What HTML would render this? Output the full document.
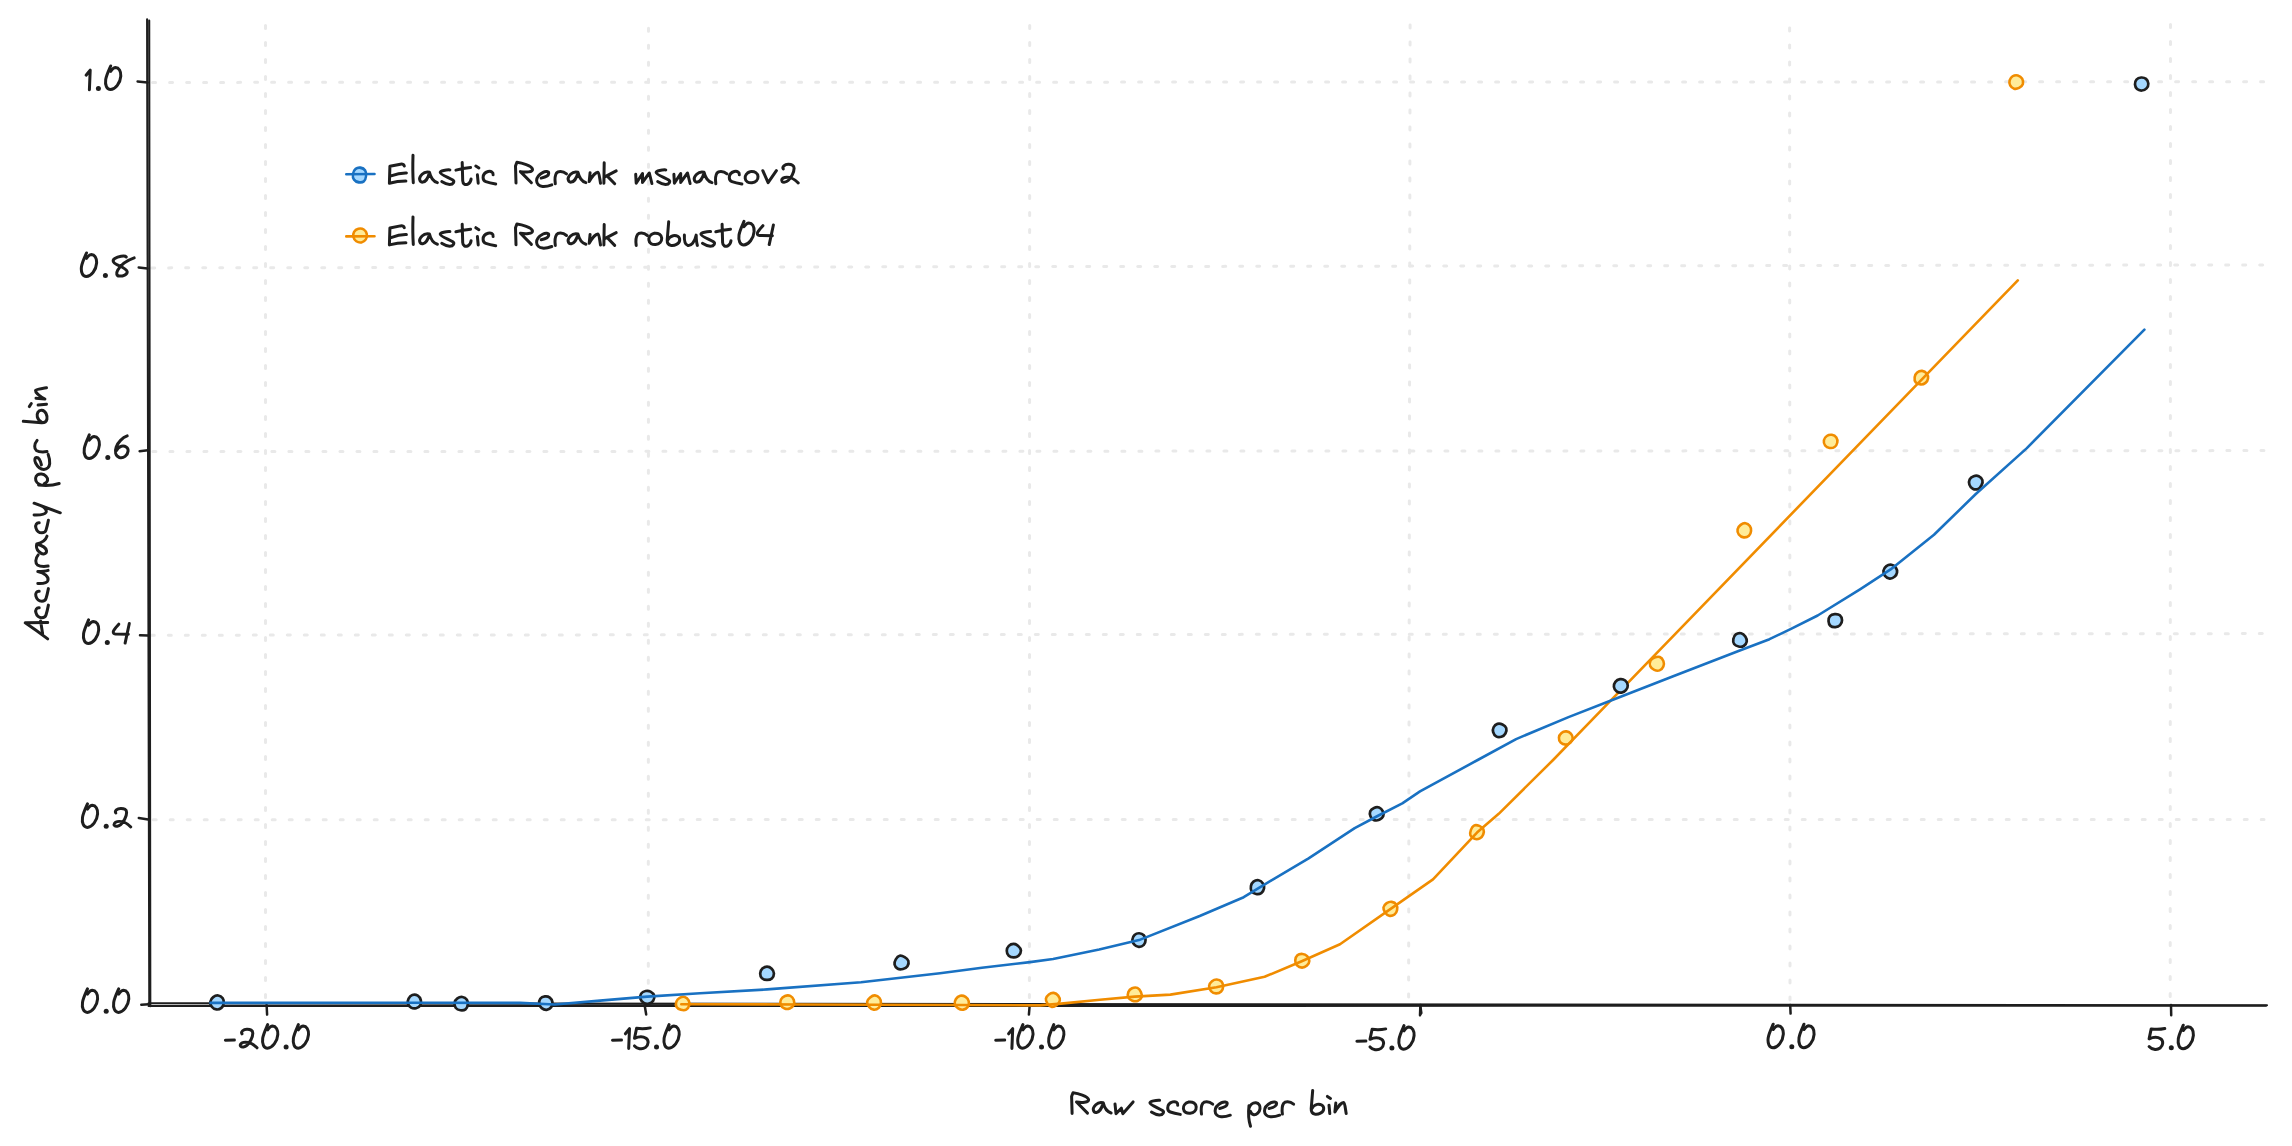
<!DOCTYPE html>
<html><head><meta charset="utf-8"><title>Accuracy per bin vs raw score</title>
<style>
html,body{margin:0;padding:0;background:#fff;font-family:"Liberation Sans",sans-serif;}
svg{display:block}
</style></head><body>
<svg width="2292" height="1146" viewBox="0 0 2292 1146">
<rect width="2292" height="1146" fill="#fff"/>

<g stroke="#e9e9e9" stroke-width="3" stroke-linecap="round" fill="none" stroke-dasharray="3 14">
<line x1="152.6" y1="82.4" x2="2264" y2="81.8"/>
<line x1="151.7" y1="267.9" x2="2264" y2="264.9"/>
<line x1="152.9" y1="451.6" x2="2264" y2="450.6"/>
<line x1="151.3" y1="635.2" x2="2264" y2="633.6"/>
<line x1="153.2" y1="819.7" x2="2264" y2="819.4"/>
<line x1="265.5" y1="25.5" x2="265.5" y2="1000"/>
<line x1="648.5" y1="28.3" x2="648.3" y2="1000"/>
<line x1="1029.7" y1="25.4" x2="1029.4" y2="1000"/>
<line x1="1410.1" y1="24.9" x2="1408.6" y2="1000"/>
<line x1="1789.6" y1="28.0" x2="1790.0" y2="1000"/>
<line x1="2170.5" y1="24.6" x2="2170.2" y2="1000"/>
</g>
<g stroke="#1e1e1e" stroke-width="2.1" stroke-linecap="round" fill="none">
<path d="M147.1,19.3 Q147.6,500 149.3,1006"/>
<path d="M149.2,20.5 Q149.6,520 150.3,1006.3"/>
<path d="M148.6,1003.3 Q900,1004.6 2267,1005.2"/>
<path d="M148.6,1006.0 Q1200,1006.0 2266,1005.7"/>
</g>
<g stroke="#1e1e1e" stroke-width="2.5" stroke-linecap="round" fill="none">
<line x1="137.6" y1="81.5" x2="147.5" y2="82.5"/>
<line x1="138.7" y1="267.5" x2="147.5" y2="268.4"/>
<line x1="139.6" y1="451.2" x2="147.8" y2="450.2"/>
<line x1="140.0" y1="635.2" x2="148.0" y2="635.5"/>
<line x1="138.8" y1="818.0" x2="148.2" y2="819.4"/>
<line x1="141.3" y1="1004.7" x2="149" y2="1004.2"/>
<line x1="266.6" y1="1005" x2="267.1" y2="1014.6"/>
<line x1="644.6" y1="1005" x2="646.2" y2="1014.5"/>
<line x1="1029.7" y1="1005" x2="1028.9" y2="1014.6"/>
<line x1="1420.4" y1="1005" x2="1420.0" y2="1015.3"/>
<line x1="1790.2" y1="1005" x2="1790.6" y2="1013.6"/>
<line x1="2171.0" y1="1005" x2="2171.2" y2="1015.3"/>
<path d="M1420.4,1005 L1421.6,1013 L1420.0,1015.3" stroke-width="2"/>
</g>
<g stroke="#f08c00" stroke-width="2.6" fill="#ffec99" stroke-linejoin="round">
<path d="M689.18,1005.38 C688.78,1006.94 687.56,1008.97 686.18,1009.71 C684.81,1010.45 682.55,1010.30 680.93,1009.83 C679.32,1009.37 677.24,1008.32 676.48,1006.94 C675.72,1005.57 675.83,1003.13 676.37,1001.60 C676.90,1000.08 678.30,998.58 679.69,997.80 C681.09,997.02 683.25,996.51 684.74,996.93 C686.22,997.35 687.88,998.92 688.62,1000.33 C689.36,1001.74 689.59,1003.82 689.18,1005.38Z"/>
<path d="M793.56,1005.16 C792.88,1006.58 791.19,1007.90 789.71,1008.46 C788.22,1009.03 786.14,1009.12 784.65,1008.53 C783.16,1007.94 781.37,1006.43 780.76,1004.93 C780.14,1003.43 780.26,1001.00 780.96,999.51 C781.66,998.02 783.40,996.57 784.95,995.97 C786.51,995.38 788.83,995.25 790.31,995.91 C791.79,996.58 793.27,998.42 793.81,999.96 C794.35,1001.50 794.25,1003.75 793.56,1005.16Z"/>
<path d="M874.91,995.41 C876.48,995.51 878.53,996.75 879.53,998.01 C880.53,999.27 881.04,1001.35 880.92,1002.98 C880.81,1004.61 880.04,1006.68 878.83,1007.80 C877.62,1008.91 875.29,1009.83 873.67,1009.66 C872.04,1009.49 870.15,1008.11 869.06,1006.80 C867.97,1005.48 866.96,1003.34 867.14,1001.77 C867.31,1000.21 868.82,998.47 870.11,997.41 C871.41,996.35 873.34,995.31 874.91,995.41Z"/>
<path d="M967.85,1006.68 C966.94,1008.07 964.90,1009.33 963.29,1009.62 C961.68,1009.91 959.61,1009.29 958.20,1008.41 C956.79,1007.52 955.21,1005.89 954.83,1004.32 C954.45,1002.76 955.02,1000.45 955.93,999.03 C956.83,997.61 958.66,996.15 960.27,995.79 C961.88,995.44 964.17,996.00 965.57,996.91 C966.98,997.83 968.34,999.66 968.72,1001.29 C969.10,1002.91 968.75,1005.29 967.85,1006.68Z"/>
<path d="M1047.57,1003.66 C1046.59,1002.29 1045.69,1000.28 1045.90,998.74 C1046.10,997.21 1047.51,995.42 1048.82,994.44 C1050.13,993.46 1052.18,992.68 1053.74,992.88 C1055.31,993.08 1057.18,994.32 1058.19,995.62 C1059.20,996.92 1060.03,999.11 1059.80,1000.67 C1059.56,1002.23 1058.13,1003.93 1056.79,1004.98 C1055.46,1006.02 1053.34,1007.14 1051.80,1006.92 C1050.26,1006.70 1048.56,1005.02 1047.57,1003.66Z"/>
<path d="M1128.31,997.44 C1127.63,996.00 1127.73,993.60 1128.35,992.07 C1128.97,990.55 1130.53,988.97 1132.04,988.28 C1133.55,987.59 1135.94,987.31 1137.42,987.92 C1138.90,988.53 1140.22,990.37 1140.91,991.93 C1141.61,993.48 1142.15,995.76 1141.59,997.26 C1141.03,998.76 1139.10,1000.36 1137.57,1000.94 C1136.04,1001.51 1133.95,1001.30 1132.40,1000.72 C1130.86,1000.13 1128.98,998.88 1128.31,997.44Z"/>
<path d="M1223.13,986.57 C1223.06,988.22 1222.32,990.35 1221.14,991.48 C1219.95,992.62 1217.70,993.45 1216.01,993.37 C1214.32,993.30 1212.17,992.29 1211.02,991.03 C1209.87,989.76 1208.96,987.43 1209.12,985.80 C1209.28,984.18 1210.69,982.31 1211.97,981.26 C1213.24,980.21 1215.17,979.46 1216.76,979.51 C1218.36,979.56 1220.49,980.40 1221.55,981.58 C1222.61,982.75 1223.20,984.92 1223.13,986.57Z"/>
<path d="M1295.26,960.34 C1295.33,958.64 1296.19,956.39 1297.41,955.33 C1298.62,954.26 1300.93,953.81 1302.55,953.94 C1304.17,954.06 1306.02,954.94 1307.15,956.10 C1308.28,957.25 1309.38,959.29 1309.34,960.86 C1309.30,962.44 1308.12,964.43 1306.91,965.57 C1305.69,966.70 1303.68,967.67 1302.03,967.66 C1300.39,967.64 1298.16,966.71 1297.03,965.49 C1295.90,964.27 1295.20,962.03 1295.26,960.34Z"/>
<path d="M1389.20,915.71 C1387.64,915.36 1386.07,913.79 1385.12,912.40 C1384.16,911.02 1383.21,908.94 1383.47,907.40 C1383.74,905.87 1385.32,904.11 1386.70,903.18 C1388.09,902.26 1390.15,901.62 1391.76,901.86 C1393.38,902.10 1395.52,903.29 1396.41,904.63 C1397.30,905.98 1397.41,908.27 1397.09,909.92 C1396.77,911.56 1395.81,913.54 1394.50,914.51 C1393.18,915.47 1390.77,916.06 1389.20,915.71Z"/>
<path d="M1470.91,829.92 C1471.51,828.31 1472.57,826.24 1473.98,825.57 C1475.39,824.90 1477.79,825.28 1479.36,825.90 C1480.93,826.53 1482.74,827.86 1483.39,829.29 C1484.03,830.73 1483.81,833.01 1483.22,834.53 C1482.62,836.04 1481.26,837.66 1479.81,838.38 C1478.36,839.10 1476.09,839.36 1474.52,838.83 C1472.95,838.30 1471.00,836.69 1470.40,835.20 C1469.79,833.72 1470.31,831.52 1470.91,829.92Z"/>
<path d="M1560.72,742.67 C1559.61,741.50 1558.80,739.20 1558.93,737.57 C1559.05,735.94 1560.23,733.92 1561.48,732.89 C1562.73,731.86 1564.84,731.25 1566.40,731.39 C1567.97,731.52 1569.82,732.52 1570.87,733.69 C1571.92,734.86 1572.81,736.88 1572.71,738.41 C1572.62,739.94 1571.51,741.85 1570.32,742.88 C1569.13,743.91 1567.20,744.62 1565.60,744.59 C1564.00,744.55 1561.83,743.84 1560.72,742.67Z"/>
<path d="M1650.38,660.88 C1651.09,659.44 1652.94,658.29 1654.50,657.65 C1656.07,657.02 1658.28,656.50 1659.76,657.07 C1661.25,657.65 1662.82,659.55 1663.42,661.12 C1664.01,662.68 1663.99,664.94 1663.35,666.49 C1662.71,668.03 1661.07,669.81 1659.55,670.38 C1658.03,670.95 1655.76,670.59 1654.22,669.91 C1652.67,669.24 1650.89,667.84 1650.26,666.34 C1649.62,664.83 1649.68,662.33 1650.38,660.88Z"/>
<path d="M1738.80,534.53 C1737.79,533.16 1737.29,530.76 1737.59,529.16 C1737.90,527.55 1739.31,525.90 1740.64,524.90 C1741.96,523.91 1743.99,523.02 1745.53,523.21 C1747.06,523.41 1748.94,524.79 1749.86,526.09 C1750.78,527.38 1751.22,529.35 1751.07,530.97 C1750.91,532.59 1750.19,534.74 1748.95,535.80 C1747.71,536.86 1745.32,537.55 1743.63,537.34 C1741.94,537.13 1739.80,535.89 1738.80,534.53Z"/>
<path d="M1834.55,446.95 C1833.27,447.83 1831.17,448.16 1829.60,447.91 C1828.03,447.66 1826.07,446.70 1825.12,445.44 C1824.17,444.18 1823.61,441.90 1823.89,440.33 C1824.17,438.75 1825.48,436.91 1826.81,435.99 C1828.14,435.08 1830.26,434.57 1831.85,434.82 C1833.44,435.08 1835.45,436.21 1836.35,437.51 C1837.25,438.81 1837.57,441.06 1837.27,442.63 C1836.97,444.20 1835.83,446.07 1834.55,446.95Z"/>
<path d="M1914.66,377.07 C1914.90,375.43 1915.93,373.58 1917.18,372.55 C1918.43,371.52 1920.56,370.75 1922.15,370.91 C1923.74,371.07 1925.76,372.24 1926.74,373.51 C1927.72,374.78 1928.24,376.96 1928.03,378.52 C1927.82,380.09 1926.71,381.90 1925.48,382.88 C1924.26,383.87 1922.30,384.51 1920.68,384.42 C1919.06,384.33 1916.76,383.56 1915.75,382.34 C1914.75,381.11 1914.42,378.70 1914.66,377.07Z"/>
<path d="M2022.87,84.18 C2022.36,85.72 2020.57,87.19 2019.10,87.94 C2017.63,88.68 2015.55,89.09 2014.06,88.67 C2012.58,88.24 2010.91,86.77 2010.17,85.39 C2009.43,84.02 2009.23,81.94 2009.63,80.42 C2010.03,78.90 2011.22,77.10 2012.59,76.26 C2013.96,75.43 2016.23,75.02 2017.82,75.42 C2019.42,75.83 2021.31,77.26 2022.15,78.71 C2022.99,80.17 2023.38,82.64 2022.87,84.18Z"/>
</g>
<path d="M681.3,1004.2 L800.0,1004.5 L960.0,1005.0 L1040.0,1005.4 L1061.0,1003.6 L1100.0,999.7 L1134.8,996.6 L1170.4,994.6 L1216.4,987.2 L1264.6,976.8 L1302.3,961.0 L1340.0,944.3 L1390.3,909.1 L1433.0,879.4 L1477.0,832.6 L1498.7,813.8 L1553.1,760.0 L1610.4,700.8 L2017.8,280.4" fill="none" stroke="#f08c00" stroke-width="2.6" stroke-linejoin="round" stroke-linecap="round"/>
<g stroke="#1e1e1e" stroke-width="2.7" fill="#a5d8ff" stroke-linejoin="round">
<path d="M221.42,1007.86 C220.20,1008.88 218.00,1009.65 216.39,1009.46 C214.78,1009.28 212.78,1008.06 211.78,1006.75 C210.77,1005.44 210.13,1003.19 210.37,1001.59 C210.60,1000.00 211.88,998.17 213.19,997.15 C214.50,996.14 216.63,995.32 218.21,995.51 C219.80,995.71 221.80,997.03 222.71,998.34 C223.63,999.64 223.92,1001.75 223.70,1003.34 C223.49,1004.92 222.64,1006.84 221.42,1007.86Z"/>
<path d="M408.58,998.70 C409.32,997.25 410.81,995.50 412.35,994.99 C413.88,994.48 416.38,994.82 417.79,995.66 C419.20,996.51 420.39,998.45 420.82,1000.06 C421.25,1001.66 421.14,1003.92 420.35,1005.28 C419.56,1006.64 417.63,1007.83 416.09,1008.22 C414.54,1008.61 412.45,1008.39 411.09,1007.64 C409.73,1006.88 408.34,1005.19 407.92,1003.70 C407.50,1002.21 407.84,1000.15 408.58,998.70Z"/>
<path d="M465.52,1009.33 C464.30,1010.25 462.07,1010.49 460.45,1010.26 C458.83,1010.03 456.78,1009.21 455.81,1007.96 C454.83,1006.72 454.32,1004.39 454.58,1002.80 C454.85,1001.21 456.09,999.39 457.40,998.42 C458.70,997.45 460.82,996.76 462.40,996.98 C463.98,997.19 466.01,998.42 466.90,999.71 C467.79,1001.00 467.99,1003.13 467.76,1004.73 C467.53,1006.34 466.73,1008.41 465.52,1009.33Z"/>
<path d="M552.41,1002.01 C552.65,1003.61 552.20,1005.84 551.24,1007.14 C550.27,1008.45 548.21,1009.67 546.62,1009.83 C545.03,1009.99 542.93,1009.13 541.71,1008.11 C540.49,1007.10 539.55,1005.31 539.30,1003.75 C539.06,1002.18 539.31,999.93 540.24,998.71 C541.16,997.50 543.26,996.65 544.85,996.46 C546.44,996.28 548.52,996.65 549.78,997.58 C551.04,998.50 552.16,1000.42 552.41,1002.01Z"/>
<path d="M654.08,995.43 C654.53,996.96 654.09,999.40 653.22,1000.76 C652.34,1002.11 650.41,1003.21 648.84,1003.57 C647.27,1003.93 645.21,1003.71 643.81,1002.93 C642.41,1002.16 640.89,1000.49 640.45,998.94 C640.00,997.38 640.27,994.94 641.13,993.61 C641.99,992.29 644.04,991.33 645.61,991.00 C647.17,990.66 649.11,990.84 650.52,991.58 C651.93,992.32 653.63,993.90 654.08,995.43Z"/>
<path d="M771.71,968.67 C772.86,969.81 773.91,971.80 773.94,973.44 C773.96,975.07 773.06,977.38 771.87,978.47 C770.68,979.55 768.44,980.00 766.77,979.95 C765.10,979.90 762.93,979.29 761.84,978.17 C760.75,977.04 760.15,974.77 760.24,973.17 C760.33,971.58 761.24,969.69 762.38,968.60 C763.51,967.51 765.47,966.61 767.03,966.63 C768.59,966.64 770.56,967.54 771.71,968.67Z"/>
<path d="M899.66,955.79 C901.14,955.43 903.24,956.34 904.68,957.20 C906.13,958.06 907.88,959.43 908.34,960.95 C908.81,962.47 908.36,964.99 907.46,966.32 C906.57,967.65 904.59,968.54 902.97,968.94 C901.36,969.35 899.19,969.51 897.79,968.75 C896.38,968.00 894.90,965.99 894.57,964.42 C894.23,962.86 894.93,960.78 895.78,959.34 C896.63,957.90 898.17,956.15 899.66,955.79Z"/>
<path d="M1013.85,957.46 C1012.18,957.52 1009.91,956.91 1008.73,955.79 C1007.55,954.67 1006.76,952.40 1006.77,950.75 C1006.78,949.11 1007.67,947.04 1008.80,945.91 C1009.93,944.78 1011.99,943.96 1013.55,943.96 C1015.12,943.96 1016.97,944.82 1018.20,945.90 C1019.42,946.98 1020.81,948.85 1020.91,950.44 C1021.00,952.03 1019.94,954.27 1018.76,955.44 C1017.59,956.62 1015.52,957.41 1013.85,957.46Z"/>
<path d="M1143.81,944.86 C1142.68,946.01 1140.37,946.90 1138.75,946.81 C1137.13,946.71 1135.16,945.50 1134.10,944.27 C1133.04,943.05 1132.31,941.03 1132.39,939.47 C1132.46,937.91 1133.39,935.95 1134.53,934.91 C1135.67,933.87 1137.68,933.19 1139.22,933.25 C1140.77,933.30 1142.75,934.11 1143.80,935.22 C1144.86,936.33 1145.55,938.32 1145.55,939.93 C1145.55,941.53 1144.95,943.71 1143.81,944.86Z"/>
<path d="M1256.05,893.95 C1254.45,893.63 1252.51,892.47 1251.65,891.16 C1250.80,889.85 1250.64,887.68 1250.94,886.10 C1251.24,884.52 1252.18,882.66 1253.46,881.68 C1254.74,880.71 1257.04,879.96 1258.63,880.25 C1260.21,880.54 1262.06,882.05 1262.96,883.43 C1263.85,884.82 1264.28,886.95 1264.00,888.56 C1263.72,890.17 1262.60,892.21 1261.27,893.11 C1259.95,894.01 1257.65,894.28 1256.05,893.95Z"/>
<path d="M1382.74,811.11 C1383.43,812.58 1383.76,814.91 1383.18,816.37 C1382.60,817.82 1380.75,819.21 1379.25,819.84 C1377.74,820.46 1375.58,820.68 1374.13,820.12 C1372.68,819.56 1371.19,817.92 1370.54,816.46 C1369.89,814.99 1369.66,812.74 1370.23,811.31 C1370.81,809.89 1372.54,808.52 1374.01,807.89 C1375.48,807.26 1377.59,806.99 1379.05,807.53 C1380.50,808.07 1382.06,809.63 1382.74,811.11Z"/>
<path d="M1502.46,724.49 C1503.93,725.21 1505.75,726.68 1506.24,728.18 C1506.73,729.68 1506.22,732.04 1505.41,733.47 C1504.60,734.89 1502.93,736.23 1501.39,736.72 C1499.85,737.20 1497.56,737.15 1496.19,736.40 C1494.81,735.65 1493.59,733.76 1493.16,732.23 C1492.73,730.71 1492.90,728.64 1493.61,727.25 C1494.31,725.85 1495.93,724.33 1497.41,723.87 C1498.88,723.41 1500.99,723.77 1502.46,724.49Z"/>
<path d="M1613.91,686.92 C1613.71,685.32 1614.37,683.12 1615.38,681.83 C1616.39,680.54 1618.34,679.41 1619.98,679.19 C1621.62,678.96 1623.92,679.49 1625.21,680.50 C1626.51,681.52 1627.64,683.67 1627.76,685.28 C1627.88,686.88 1626.95,688.91 1625.92,690.14 C1624.89,691.36 1623.12,692.41 1621.57,692.63 C1620.02,692.84 1617.89,692.36 1616.61,691.41 C1615.34,690.46 1614.12,688.51 1613.91,686.92Z"/>
<path d="M1746.77,641.55 C1746.50,643.14 1745.07,645.17 1743.70,645.99 C1742.34,646.81 1740.17,646.82 1738.58,646.49 C1736.98,646.16 1735.00,645.28 1734.13,644.03 C1733.25,642.77 1733.05,640.56 1733.33,638.94 C1733.62,637.32 1734.52,635.25 1735.82,634.30 C1737.13,633.35 1739.57,632.88 1741.15,633.24 C1742.73,633.61 1744.37,635.10 1745.30,636.49 C1746.24,637.87 1747.04,639.97 1746.77,641.55Z"/>
<path d="M1835.47,627.16 C1833.87,627.29 1831.64,626.89 1830.48,625.88 C1829.32,624.86 1828.61,622.70 1828.52,621.08 C1828.43,619.45 1828.92,617.25 1829.95,616.11 C1830.98,614.96 1833.07,614.32 1834.73,614.19 C1836.39,614.06 1838.67,614.31 1839.89,615.33 C1841.11,616.35 1842.00,618.67 1842.03,620.30 C1842.06,621.94 1841.14,623.97 1840.05,625.12 C1838.96,626.26 1837.06,627.03 1835.47,627.16Z"/>
<path d="M1895.80,567.61 C1896.72,568.90 1897.24,570.93 1897.03,572.45 C1896.82,573.97 1895.77,575.73 1894.54,576.75 C1893.32,577.76 1891.28,578.69 1889.68,578.55 C1888.09,578.41 1886.01,577.23 1884.97,575.91 C1883.93,574.60 1883.23,572.29 1883.46,570.66 C1883.69,569.02 1885.03,567.07 1886.37,566.09 C1887.71,565.10 1889.93,564.49 1891.51,564.75 C1893.08,565.00 1894.88,566.33 1895.80,567.61Z"/>
<path d="M1978.78,476.20 C1980.24,476.85 1981.92,478.60 1982.39,480.09 C1982.85,481.59 1982.28,483.70 1981.57,485.17 C1980.85,486.65 1979.55,488.34 1978.09,488.93 C1976.62,489.52 1974.22,489.42 1972.77,488.70 C1971.32,487.99 1969.91,486.18 1969.40,484.64 C1968.88,483.10 1968.98,480.87 1969.68,479.46 C1970.39,478.05 1972.10,476.72 1973.62,476.18 C1975.14,475.64 1977.32,475.55 1978.78,476.20Z"/>
<path d="M2141.91,90.51 C2140.33,90.62 2138.21,90.05 2137.05,89.04 C2135.90,88.02 2135.09,85.99 2134.99,84.41 C2134.89,82.82 2135.44,80.70 2136.46,79.55 C2137.48,78.40 2139.50,77.64 2141.10,77.52 C2142.69,77.41 2144.81,77.88 2146.01,78.89 C2147.22,79.89 2148.26,81.99 2148.34,83.57 C2148.42,85.16 2147.58,87.26 2146.51,88.42 C2145.43,89.58 2143.48,90.41 2141.91,90.51Z"/>
</g>
<path d="M210.5,1002.9 L415.0,1002.8 L520.0,1002.9 L554.6,1004.5 L600.0,1000.6 L647.2,996.6 L700.0,993.3 L767.0,989.4 L861.0,982.3 L940.0,973.2 L981.9,967.7 L1030.0,962.1 L1053.1,959.0 L1099.2,949.5 L1139.0,940.1 L1199.7,916.0 L1243.7,897.2 L1257.3,888.8 L1308.6,858.4 L1354.7,828.1 L1376.6,816.5 L1402.3,803.3 L1420.0,791.4 L1477.7,760.0 L1516.1,739.1 L1568.5,717.1 L1610.4,700.7 L1673.2,676.2 L1739.8,650.5 L1769.5,639.2 L1790.5,629.1 L1817.7,615.5 L1860.0,589.3 L1890.6,569.4 L1934.0,534.8 L1975.8,494.0 L2026.6,448.4 L2144.4,329.7" fill="none" stroke="#1971c2" stroke-width="2.6" stroke-linejoin="round" stroke-linecap="round"/>
<path transform="translate(359.6,175.0) scale(0.96,1.08) translate(-359.6,-175.0)" d="M353.77,179.31 C352.78,178.02 352.40,175.61 352.68,173.96 C352.97,172.31 354.14,170.34 355.46,169.40 C356.78,168.45 358.96,168.07 360.61,168.30 C362.25,168.52 364.39,169.47 365.34,170.76 C366.30,172.04 366.54,174.31 366.32,176.01 C366.09,177.71 365.28,180.00 363.99,180.95 C362.71,181.90 360.30,181.98 358.59,181.71 C356.89,181.44 354.75,180.60 353.77,179.31Z" fill="#a5d8ff" stroke="#1971c2" stroke-width="2.6"/>
<line x1="346.3" y1="174.2" x2="374.5" y2="174.0" stroke="#1971c2" stroke-width="2.6" stroke-linecap="round"/>
<path d="M366.77,234.07 C367.11,235.72 366.74,237.99 365.84,239.38 C364.95,240.77 363.01,242.10 361.41,242.41 C359.82,242.73 357.61,242.18 356.28,241.29 C354.95,240.39 353.81,238.60 353.45,237.03 C353.08,235.47 353.24,233.27 354.07,231.89 C354.89,230.51 356.76,229.16 358.38,228.76 C360.00,228.37 362.39,228.61 363.78,229.50 C365.18,230.38 366.42,232.43 366.77,234.07Z" fill="#ffec99" stroke="#f08c00" stroke-width="2.6"/>
<line x1="346.3" y1="236.4" x2="374.5" y2="236.3" stroke="#f08c00" stroke-width="2.6" stroke-linecap="round"/>
<g fill="none" stroke="#1e1e1e" stroke-width="3.0" stroke-linecap="round" stroke-linejoin="round">
<path transform="translate(389.4,183.3)" d="M14.9,-17.3 Q14,-19.6 11,-19.1 L0.5,-17 L0,-0.1 Q8,-2.3 16.5,-2.3 M1.6,-7.4 Q10,-10.6 17,-10.4"/><path transform="translate(412.7,183.3)" d="M0.3,-28.1 Q-0.2,-12 0.6,-0.6"/><path transform="translate(419.6,183.3)" d="M9.8,-11 C7.5,-11.6 4.5,-11 2.5,-9 C0.8,-7.3 -0.3,-5.3 0,-4 C0.4,-1.8 1.8,-1 3.2,-1.2 C5.5,-1.5 8.5,-5 9.9,-11 C10.8,-7 13.5,-2 17.8,-0.7"/><path transform="translate(440.2,183.3)" d="M9.7,-13.4 C6,-13.6 0.2,-12.5 0,-10.8 C-0.2,-9 9,-5.5 12.6,-3.2 C14.5,-2 13.5,1.2 9.4,1.2 C6,1.2 3.5,-0.5 1.6,-1.7"/><path transform="translate(455.9,183.3)" d="M6.3,-20.8 L6.8,-2.5 C6.9,1 9.5,2 12,0.8 C14,-0.2 15,-2.5 15.2,-4.3 M0,-13.2 Q7,-15 14.7,-15.8"/><path transform="translate(475.8,183.3)" d="M0,-17.3 L3.1,-15.3 M1.6,-8.5 L2.4,-0.1"/><path transform="translate(483.1,183.3)" d="M10,-8.5 C10.3,-11 8,-12.6 5,-11.8 C2,-11 0,-8.5 0,-5.8 C0,-3.5 1.2,-2.2 2.7,-1.7 C5.5,-0.8 9,0 12.6,0.7"/><path transform="translate(515.5,183.3)" d="M0.5,-0.3 L0,-17.2 L1.4,-21 C6,-20.4 16.5,-17.6 17,-14 C17.3,-11.2 10,-10.7 4.9,-11.7 L15.9,-0.6"/><path transform="translate(536.6,183.3)" d="M4.6,-5.2 C8,-5.9 12,-7.8 12.1,-9.9 C12.2,-12 9,-12.3 6.5,-11 C3,-9.2 0,-5.8 0,-2.7 C0,0.5 2.5,2.8 6,3.1 C9.5,3.4 12.5,2.5 15.2,1.5"/><path transform="translate(555.0,183.3)" d="M0.3,0.4 C-0.3,-4 0,-8 1.5,-10.3 C3,-12.3 7.5,-12.8 11.5,-9.5"/><path transform="translate(568.1,183.3)" d="M9.8,-11 C7.5,-11.6 4.5,-11 2.5,-9 C0.8,-7.3 -0.3,-5.3 0,-4 C0.4,-1.8 1.8,-1 3.2,-1.2 C5.5,-1.5 8.5,-5 9.9,-11 C10.8,-7 13.5,-2 17.8,-0.7"/><path transform="translate(589.0,183.3)" d="M1.1,-10.6 L0.2,-1.7 C2.5,-6 6.5,-11.2 8.9,-11.1 C10.2,-11 10.5,-6 11.5,-0.1"/><path transform="translate(603.9,183.3)" d="M0.3,-20.5 L0,-0.1 M12.3,-12.4 L0.8,-6.4 M3.4,-7.2 L10.8,0.4"/><path transform="translate(635.7,183.3)" d="M0,-9 L0.5,-0.1 L6.8,-9.8 L6.8,-0.9 L13.6,-10.3 L16.2,0.2"/><path transform="translate(656.1,183.3)" d="M9.7,-13.4 C6,-13.6 0.2,-12.5 0,-10.8 C-0.2,-9 9,-5.5 12.6,-3.2 C14.5,-2 13.5,1.2 9.4,1.2 C6,1.2 3.5,-0.5 1.6,-1.7"/><path transform="translate(673.9,183.3)" d="M0,-9 L0.5,-0.1 L6.8,-9.8 L6.8,-0.9 L13.6,-10.3 L16.2,0.2"/><path transform="translate(694.2,183.3)" d="M9.8,-11 C7.5,-11.6 4.5,-11 2.5,-9 C0.8,-7.3 -0.3,-5.3 0,-4 C0.4,-1.8 1.8,-1 3.2,-1.2 C5.5,-1.5 8.5,-5 9.9,-11 C10.8,-7 13.5,-2 17.8,-0.7"/><path transform="translate(715.5,183.3)" d="M0.3,0.4 C-0.3,-4 0,-8 1.5,-10.3 C3,-12.3 7.5,-12.8 11.5,-9.5"/><path transform="translate(729.3,183.3)" d="M10,-8.5 C10.3,-11 8,-12.6 5,-11.8 C2,-11 0,-8.5 0,-5.8 C0,-3.5 1.2,-2.2 2.7,-1.7 C5.5,-0.8 9,0 12.6,0.7"/><path transform="translate(745.2,183.3)" d="M5,-11.6 C1.5,-10.5 -0.3,-7.5 0,-5 C0.3,-1.5 3.5,-0.2 6.8,-0.5 C10.5,-0.8 13,-3.5 12.8,-6.8 C12.6,-10.2 9.5,-12 6,-11.8 C4.5,-11.7 3.5,-11.2 2.5,-10.5"/><path transform="translate(762.8,183.3)" d="M0,-12.6 L5.3,-0.6 L13.6,-12.6"/><path transform="translate(781.7,183.3)" d="M1.6,-14.4 C0.2,-16.5 3,-18.9 6.5,-19 C10,-19.1 12.4,-17.8 12.4,-15 C12.4,-11 9.5,-5.5 6.5,-2.8 C4.5,-1 1.5,-0.6 0.3,-1.9 C-0.8,-3.2 0.5,-5.3 3,-5.8 C8,-6.8 13.5,-3.8 16.6,-0.4"/>
<path transform="translate(389.4,245.0)" d="M14.9,-17.3 Q14,-19.6 11,-19.1 L0.5,-17 L0,-0.1 Q8,-2.3 16.5,-2.3 M1.6,-7.4 Q10,-10.6 17,-10.4"/><path transform="translate(412.7,245.0)" d="M0.3,-28.1 Q-0.2,-12 0.6,-0.6"/><path transform="translate(419.6,245.0)" d="M9.8,-11 C7.5,-11.6 4.5,-11 2.5,-9 C0.8,-7.3 -0.3,-5.3 0,-4 C0.4,-1.8 1.8,-1 3.2,-1.2 C5.5,-1.5 8.5,-5 9.9,-11 C10.8,-7 13.5,-2 17.8,-0.7"/><path transform="translate(440.2,245.0)" d="M9.7,-13.4 C6,-13.6 0.2,-12.5 0,-10.8 C-0.2,-9 9,-5.5 12.6,-3.2 C14.5,-2 13.5,1.2 9.4,1.2 C6,1.2 3.5,-0.5 1.6,-1.7"/><path transform="translate(455.9,245.0)" d="M6.3,-20.8 L6.8,-2.5 C6.9,1 9.5,2 12,0.8 C14,-0.2 15,-2.5 15.2,-4.3 M0,-13.2 Q7,-15 14.7,-15.8"/><path transform="translate(475.8,245.0)" d="M0,-17.3 L3.1,-15.3 M1.6,-8.5 L2.4,-0.1"/><path transform="translate(483.1,245.0)" d="M10,-8.5 C10.3,-11 8,-12.6 5,-11.8 C2,-11 0,-8.5 0,-5.8 C0,-3.5 1.2,-2.2 2.7,-1.7 C5.5,-0.8 9,0 12.6,0.7"/><path transform="translate(515.5,245.0)" d="M0.5,-0.3 L0,-17.2 L1.4,-21 C6,-20.4 16.5,-17.6 17,-14 C17.3,-11.2 10,-10.7 4.9,-11.7 L15.9,-0.6"/><path transform="translate(536.6,245.0)" d="M4.6,-5.2 C8,-5.9 12,-7.8 12.1,-9.9 C12.2,-12 9,-12.3 6.5,-11 C3,-9.2 0,-5.8 0,-2.7 C0,0.5 2.5,2.8 6,3.1 C9.5,3.4 12.5,2.5 15.2,1.5"/><path transform="translate(555.0,245.0)" d="M0.3,0.4 C-0.3,-4 0,-8 1.5,-10.3 C3,-12.3 7.5,-12.8 11.5,-9.5"/><path transform="translate(568.1,245.0)" d="M9.8,-11 C7.5,-11.6 4.5,-11 2.5,-9 C0.8,-7.3 -0.3,-5.3 0,-4 C0.4,-1.8 1.8,-1 3.2,-1.2 C5.5,-1.5 8.5,-5 9.9,-11 C10.8,-7 13.5,-2 17.8,-0.7"/><path transform="translate(589.0,245.0)" d="M1.1,-10.6 L0.2,-1.7 C2.5,-6 6.5,-11.2 8.9,-11.1 C10.2,-11 10.5,-6 11.5,-0.1"/><path transform="translate(603.9,245.0)" d="M0.3,-20.5 L0,-0.1 M12.3,-12.4 L0.8,-6.4 M3.4,-7.2 L10.8,0.4"/><path transform="translate(635.9,245.0)" d="M0.3,0.4 C-0.3,-4 0,-8 1.5,-10.3 C3,-12.3 7.5,-12.8 11.5,-9.5"/><path transform="translate(648.9,245.0)" d="M5,-11.6 C1.5,-10.5 -0.3,-7.5 0,-5 C0.3,-1.5 3.5,-0.2 6.8,-0.5 C10.5,-0.8 13,-3.5 12.8,-6.8 C12.6,-10.2 9.5,-12 6,-11.8 C4.5,-11.7 3.5,-11.2 2.5,-10.5"/><path transform="translate(667.1,245.0)" d="M1.6,-23.3 L0.1,-5 C0,-2 1,-0.3 3.5,0.3 C7.3,1 12.3,-1 12.6,-4.8 C12.9,-8.5 9.1,-10 6,-9.3 C3.5,-8.7 1.5,-6.8 0.3,-4.5"/><path transform="translate(684.4,245.0)" d="M0,-9.9 C-0.2,-6 -0.3,-1 3,0.2 C6.5,1.3 10.5,-3 11.8,-9.9 C11.8,-6 12,-2.5 13,0.4"/><path transform="translate(700.9,245.0)" d="M9.7,-13.4 C6,-13.6 0.2,-12.5 0,-10.8 C-0.2,-9 9,-5.5 12.6,-3.2 C14.5,-2 13.5,1.2 9.4,1.2 C6,1.2 3.5,-0.5 1.6,-1.7"/><path transform="translate(715.8,245.0)" d="M6.3,-20.8 L6.8,-2.5 C6.9,1 9.5,2 12,0.8 C14,-0.2 15,-2.5 15.2,-4.3 M0,-13.2 Q7,-15 14.7,-15.8"/><path transform="translate(738.8,245.0)" d="M5.2,-23.6 C3.9,-20.5 0.9,-14.5 0.2,-10 C-0.6,-4.5 1.3,0 5,0 C9.8,0 14.9,-6.8 15.3,-13.5 C15.6,-18.6 13.4,-22 10,-22.1 C8.8,-22.1 7.2,-21 5.2,-18.3"/><path transform="translate(757.4,245.0)" d="M5.5,-19.3 C3,-16.5 0.5,-14 0,-12 C-0.2,-10.3 0.5,-9.6 2,-9.5 L15,-9.2 M16,-20 L11.8,-0.4"/>
<path transform="translate(1071.6,1113.7)" d="M0.5,-0.3 L0,-17.2 L1.4,-21 C6,-20.4 16.5,-17.6 17,-14 C17.3,-11.2 10,-10.7 4.9,-11.7 L15.9,-0.6"/><path transform="translate(1093.3,1113.7)" d="M9.8,-11 C7.5,-11.6 4.5,-11 2.5,-9 C0.8,-7.3 -0.3,-5.3 0,-4 C0.4,-1.8 1.8,-1 3.2,-1.2 C5.5,-1.5 8.5,-5 9.9,-11 C10.8,-7 13.5,-2 17.8,-0.7"/><path transform="translate(1115.0,1113.7)" d="M0,-9.8 L1,0 L6.3,-5.5 L7.8,0 L18.1,-11.8"/><path transform="translate(1149.9,1113.7)" d="M9.7,-13.4 C6,-13.6 0.2,-12.5 0,-10.8 C-0.2,-9 9,-5.5 12.6,-3.2 C14.5,-2 13.5,1.2 9.4,1.2 C6,1.2 3.5,-0.5 1.6,-1.7"/><path transform="translate(1167.7,1113.7)" d="M10,-8.5 C10.3,-11 8,-12.6 5,-11.8 C2,-11 0,-8.5 0,-5.8 C0,-3.5 1.2,-2.2 2.7,-1.7 C5.5,-0.8 9,0 12.6,0.7"/><path transform="translate(1183.4,1113.7)" d="M5,-11.6 C1.5,-10.5 -0.3,-7.5 0,-5 C0.3,-1.5 3.5,-0.2 6.8,-0.5 C10.5,-0.8 13,-3.5 12.8,-6.8 C12.6,-10.2 9.5,-12 6,-11.8 C4.5,-11.7 3.5,-11.2 2.5,-10.5"/><path transform="translate(1201.2,1113.7)" d="M0.3,0.4 C-0.3,-4 0,-8 1.5,-10.3 C3,-12.3 7.5,-12.8 11.5,-9.5"/><path transform="translate(1215.1,1113.7)" d="M4.6,-5.2 C8,-5.9 12,-7.8 12.1,-9.9 C12.2,-12 9,-12.3 6.5,-11 C3,-9.2 0,-5.8 0,-2.7 C0,0.5 2.5,2.8 6,3.1 C9.5,3.4 12.5,2.5 15.2,1.5"/><path transform="translate(1248.4,1113.7)" d="M0.6,-8 C0,-3 -0.3,5 2.1,12.6 M0.5,-5.2 C1.5,-9 4.5,-11.3 7.5,-11 C10.5,-10.7 12,-8 11.6,-5 C11.2,-1.5 8,1.3 5.5,1 C3.5,0.7 2.5,-1 2,-2.3"/><path transform="translate(1264.5,1113.7)" d="M4.6,-5.2 C8,-5.9 12,-7.8 12.1,-9.9 C12.2,-12 9,-12.3 6.5,-11 C3,-9.2 0,-5.8 0,-2.7 C0,0.5 2.5,2.8 6,3.1 C9.5,3.4 12.5,2.5 15.2,1.5"/><path transform="translate(1282.1,1113.7)" d="M0.3,0.4 C-0.3,-4 0,-8 1.5,-10.3 C3,-12.3 7.5,-12.8 11.5,-9.5"/><path transform="translate(1311.1,1113.7)" d="M1.6,-23.3 L0.1,-5 C0,-2 1,-0.3 3.5,0.3 C7.3,1 12.3,-1 12.6,-4.8 C12.9,-8.5 9.1,-10 6,-9.3 C3.5,-8.7 1.5,-6.8 0.3,-4.5"/><path transform="translate(1327.4,1113.7)" d="M0,-17.3 L3.1,-15.3 M1.6,-8.5 L2.4,-0.1"/><path transform="translate(1334.7,1113.7)" d="M1.1,-10.6 L0.2,-1.7 C2.5,-6 6.5,-11.2 8.9,-11.1 C10.2,-11 10.5,-6 11.5,-0.1"/>
<g transform="translate(47.7,638.9) rotate(-90)"><path transform="translate(0.0,0.0)" d="M0,0 Q9,-12 16.1,-22.5 L16.3,0 M5.1,-5.1 L18,-7.1"/><path transform="translate(21.2,0.0)" d="M10,-8.5 C10.3,-11 8,-12.6 5,-11.8 C2,-11 0,-8.5 0,-5.8 C0,-3.5 1.2,-2.2 2.7,-1.7 C5.5,-0.8 9,0 12.6,0.7"/><path transform="translate(37.7,0.0)" d="M10,-8.5 C10.3,-11 8,-12.6 5,-11.8 C2,-11 0,-8.5 0,-5.8 C0,-3.5 1.2,-2.2 2.7,-1.7 C5.5,-0.8 9,0 12.6,0.7"/><path transform="translate(55.5,0.0)" d="M0,-9.9 C-0.2,-6 -0.3,-1 3,0.2 C6.5,1.3 10.5,-3 11.8,-9.9 C11.8,-6 12,-2.5 13,0.4"/><path transform="translate(72.5,0.0)" d="M0.3,0.4 C-0.3,-4 0,-8 1.5,-10.3 C3,-12.3 7.5,-12.8 11.5,-9.5"/><path transform="translate(85.0,0.0)" d="M9.8,-11 C7.5,-11.6 4.5,-11 2.5,-9 C0.8,-7.3 -0.3,-5.3 0,-4 C0.4,-1.8 1.8,-1 3.2,-1.2 C5.5,-1.5 8.5,-5 9.9,-11 C10.8,-7 13.5,-2 17.8,-0.7"/><path transform="translate(106.1,0.0)" d="M10,-8.5 C10.3,-11 8,-12.6 5,-11.8 C2,-11 0,-8.5 0,-5.8 C0,-3.5 1.2,-2.2 2.7,-1.7 C5.5,-0.8 9,0 12.6,0.7"/><path transform="translate(124.0,0.0)" d="M0,-13.6 C-0.2,-8 0,-3 2.5,-1.7 C5,-0.6 8,-3.5 9.3,-7 M11.7,-13.6 L2.1,12.6"/><path transform="translate(153.3,-1.1)" d="M0.6,-8 C0,-3 -0.3,5 2.1,12.6 M0.5,-5.2 C1.5,-9 4.5,-11.3 7.5,-11 C10.5,-10.7 12,-8 11.6,-5 C11.2,-1.5 8,1.3 5.5,1 C3.5,0.7 2.5,-1 2,-2.3"/><path transform="translate(169.4,-1.1)" d="M4.6,-5.2 C8,-5.9 12,-7.8 12.1,-9.9 C12.2,-12 9,-12.3 6.5,-11 C3,-9.2 0,-5.8 0,-2.7 C0,0.5 2.5,2.8 6,3.1 C9.5,3.4 12.5,2.5 15.2,1.5"/><path transform="translate(187.0,-1.1)" d="M0.3,0.4 C-0.3,-4 0,-8 1.5,-10.3 C3,-12.3 7.5,-12.8 11.5,-9.5"/><path transform="translate(216.0,-1.1)" d="M1.6,-23.3 L0.1,-5 C0,-2 1,-0.3 3.5,0.3 C7.3,1 12.3,-1 12.6,-4.8 C12.9,-8.5 9.1,-10 6,-9.3 C3.5,-8.7 1.5,-6.8 0.3,-4.5"/><path transform="translate(232.3,-1.1)" d="M0,-17.3 L3.1,-15.3 M1.6,-8.5 L2.4,-0.1"/><path transform="translate(239.6,-1.1)" d="M1.1,-10.6 L0.2,-1.7 C2.5,-6 6.5,-11.2 8.9,-11.1 C10.2,-11 10.5,-6 11.5,-0.1"/></g>
<path transform="translate(224.9,1048.2)" d="M0.5,-7.9 L9.5,-8.1"/><path transform="translate(240.4,1048.2)" d="M1.6,-14.4 C0.2,-16.5 3,-18.9 6.5,-19 C10,-19.1 12.4,-17.8 12.4,-15 C12.4,-11 9.5,-5.5 6.5,-2.8 C4.5,-1 1.5,-0.6 0.3,-1.9 C-0.8,-3.2 0.5,-5.3 3,-5.8 C8,-6.8 13.5,-3.8 16.6,-0.4"/><path transform="translate(262.5,1048.2)" d="M5.2,-23.6 C3.9,-20.5 0.9,-14.5 0.2,-10 C-0.6,-4.5 1.3,0 5,0 C9.8,0 14.9,-6.8 15.3,-13.5 C15.6,-18.6 13.4,-22 10,-22.1 C8.8,-22.1 7.2,-21 5.2,-18.3"/><circle cx="286.1" cy="1047.1" r="2.5" fill="#1e1e1e" stroke="none"/><path transform="translate(293.2,1048.2)" d="M5.2,-23.6 C3.9,-20.5 0.9,-14.5 0.2,-10 C-0.6,-4.5 1.3,0 5,0 C9.8,0 14.9,-6.8 15.3,-13.5 C15.6,-18.6 13.4,-22 10,-22.1 C8.8,-22.1 7.2,-21 5.2,-18.3"/>
<path transform="translate(612.0,1048.2)" d="M0.5,-7.9 L9.5,-8.1"/><path transform="translate(624.6,1048.2)" d="M0.8,-14.4 L4.9,-19.5 L4.1,0.2"/><path transform="translate(634.5,1048.2)" d="M15.7,-20.3 Q9,-18.8 2.1,-19.9 L0,-9.9 C3.5,-11.5 8.5,-12 11.5,-10 C14.5,-8 14.3,-3.5 11,-0.8 C7.5,1.8 2.5,0.5 0,-2.3"/><circle cx="656.5" cy="1047.1" r="2.5" fill="#1e1e1e" stroke="none"/><path transform="translate(663.9,1048.2)" d="M5.2,-23.6 C3.9,-20.5 0.9,-14.5 0.2,-10 C-0.6,-4.5 1.3,0 5,0 C9.8,0 14.9,-6.8 15.3,-13.5 C15.6,-18.6 13.4,-22 10,-22.1 C8.8,-22.1 7.2,-21 5.2,-18.3"/>
<path transform="translate(995.2,1048.2)" d="M0.5,-7.9 L9.5,-8.1"/><path transform="translate(1007.8,1048.2)" d="M0.8,-14.4 L4.9,-19.5 L4.1,0.2"/><path transform="translate(1017.7,1048.2)" d="M5.2,-23.6 C3.9,-20.5 0.9,-14.5 0.2,-10 C-0.6,-4.5 1.3,0 5,0 C9.8,0 14.9,-6.8 15.3,-13.5 C15.6,-18.6 13.4,-22 10,-22.1 C8.8,-22.1 7.2,-21 5.2,-18.3"/><circle cx="1041.5" cy="1047.1" r="2.5" fill="#1e1e1e" stroke="none"/><path transform="translate(1048.6,1048.2)" d="M5.2,-23.6 C3.9,-20.5 0.9,-14.5 0.2,-10 C-0.6,-4.5 1.3,0 5,0 C9.8,0 14.9,-6.8 15.3,-13.5 C15.6,-18.6 13.4,-22 10,-22.1 C8.8,-22.1 7.2,-21 5.2,-18.3"/>
<path transform="translate(1356.4,1049.2)" d="M0.5,-7.9 L9.5,-8.1"/><path transform="translate(1370.0,1049.2)" d="M15.7,-20.3 Q9,-18.8 2.1,-19.9 L0,-9.9 C3.5,-11.5 8.5,-12 11.5,-10 C14.5,-8 14.3,-3.5 11,-0.8 C7.5,1.8 2.5,0.5 0,-2.3"/><circle cx="1391.9" cy="1048.1" r="2.5" fill="#1e1e1e" stroke="none"/><path transform="translate(1398.8,1049.2)" d="M5.2,-23.6 C3.9,-20.5 0.9,-14.5 0.2,-10 C-0.6,-4.5 1.3,0 5,0 C9.8,0 14.9,-6.8 15.3,-13.5 C15.6,-18.6 13.4,-22 10,-22.1 C8.8,-22.1 7.2,-21 5.2,-18.3"/>
<path transform="translate(1768.0,1047.8)" d="M5.2,-23.6 C3.9,-20.5 0.9,-14.5 0.2,-10 C-0.6,-4.5 1.3,0 5,0 C9.8,0 14.9,-6.8 15.3,-13.5 C15.6,-18.6 13.4,-22 10,-22.1 C8.8,-22.1 7.2,-21 5.2,-18.3"/><circle cx="1791.8" cy="1046.7" r="2.5" fill="#1e1e1e" stroke="none"/><path transform="translate(1798.8,1047.8)" d="M5.2,-23.6 C3.9,-20.5 0.9,-14.5 0.2,-10 C-0.6,-4.5 1.3,0 5,0 C9.8,0 14.9,-6.8 15.3,-13.5 C15.6,-18.6 13.4,-22 10,-22.1 C8.8,-22.1 7.2,-21 5.2,-18.3"/>
<path transform="translate(2149.1,1048.8)" d="M15.7,-20.3 Q9,-18.8 2.1,-19.9 L0,-9.9 C3.5,-11.5 8.5,-12 11.5,-10 C14.5,-8 14.3,-3.5 11,-0.8 C7.5,1.8 2.5,0.5 0,-2.3"/><circle cx="2171.3" cy="1047.7" r="2.5" fill="#1e1e1e" stroke="none"/><path transform="translate(2178.1,1048.8)" d="M5.2,-23.6 C3.9,-20.5 0.9,-14.5 0.2,-10 C-0.6,-4.5 1.3,0 5,0 C9.8,0 14.9,-6.8 15.3,-13.5 C15.6,-18.6 13.4,-22 10,-22.1 C8.8,-22.1 7.2,-21 5.2,-18.3"/>
<path transform="translate(85.3,89.6)" d="M0.8,-14.4 L4.9,-19.5 L4.1,0.2"/><circle cx="98.4" cy="88.5" r="2.5" fill="#1e1e1e" stroke="none"/><path transform="translate(105.5,89.6)" d="M5.2,-23.6 C3.9,-20.5 0.9,-14.5 0.2,-10 C-0.6,-4.5 1.3,0 5,0 C9.8,0 14.9,-6.8 15.3,-13.5 C15.6,-18.6 13.4,-22 10,-22.1 C8.8,-22.1 7.2,-21 5.2,-18.3"/>
<path transform="translate(81.3,276.6)" d="M5.2,-23.6 C3.9,-20.5 0.9,-14.5 0.2,-10 C-0.6,-4.5 1.3,0 5,0 C9.8,0 14.9,-6.8 15.3,-13.5 C15.6,-18.6 13.4,-22 10,-22.1 C8.8,-22.1 7.2,-21 5.2,-18.3"/><circle cx="105.4" cy="275.5" r="2.5" fill="#1e1e1e" stroke="none"/><path transform="translate(112.8,276.6)" d="M13.5,-19.6 C12,-21.5 5,-20 2,-18 C-1,-16 0.5,-13.5 4,-12 C8,-10.2 14,-8 14.4,-5 C14.7,-2 10,-0.3 6.5,-0.5 C3.5,-0.7 3.3,-3.5 5,-6.5 C8,-12 15,-16.5 21.4,-18.7"/>
<path transform="translate(84.1,458.5)" d="M5.2,-23.6 C3.9,-20.5 0.9,-14.5 0.2,-10 C-0.6,-4.5 1.3,0 5,0 C9.8,0 14.9,-6.8 15.3,-13.5 C15.6,-18.6 13.4,-22 10,-22.1 C8.8,-22.1 7.2,-21 5.2,-18.3"/><circle cx="107.8" cy="457.4" r="2.5" fill="#1e1e1e" stroke="none"/><path transform="translate(115.4,458.5)" d="M11.8,-22.6 C7,-21 2.5,-16 0.8,-11.5 C-0.8,-7 0,-2.5 4,-1 C8,0.3 12.3,-3 12.7,-7.5 C13,-11 9.5,-13 6,-12.2 C3.5,-11.6 2,-10 1.2,-8"/>
<path transform="translate(83.4,643.5)" d="M5.2,-23.6 C3.9,-20.5 0.9,-14.5 0.2,-10 C-0.6,-4.5 1.3,0 5,0 C9.8,0 14.9,-6.8 15.3,-13.5 C15.6,-18.6 13.4,-22 10,-22.1 C8.8,-22.1 7.2,-21 5.2,-18.3"/><circle cx="107.3" cy="642.4" r="2.5" fill="#1e1e1e" stroke="none"/><path transform="translate(113.3,643.5)" d="M5.5,-19.3 C3,-16.5 0.5,-14 0,-12 C-0.2,-10.3 0.5,-9.6 2,-9.5 L15,-9.2 M16,-20 L11.8,-0.4"/>
<path transform="translate(82.3,827.4)" d="M5.2,-23.6 C3.9,-20.5 0.9,-14.5 0.2,-10 C-0.6,-4.5 1.3,0 5,0 C9.8,0 14.9,-6.8 15.3,-13.5 C15.6,-18.6 13.4,-22 10,-22.1 C8.8,-22.1 7.2,-21 5.2,-18.3"/><circle cx="106.2" cy="826.3" r="2.5" fill="#1e1e1e" stroke="none"/><path transform="translate(114.2,827.4)" d="M1.6,-14.4 C0.2,-16.5 3,-18.9 6.5,-19 C10,-19.1 12.4,-17.8 12.4,-15 C12.4,-11 9.5,-5.5 6.5,-2.8 C4.5,-1 1.5,-0.6 0.3,-1.9 C-0.8,-3.2 0.5,-5.3 3,-5.8 C8,-6.8 13.5,-3.8 16.6,-0.4"/>
<path transform="translate(82.3,1012.4)" d="M5.2,-23.6 C3.9,-20.5 0.9,-14.5 0.2,-10 C-0.6,-4.5 1.3,0 5,0 C9.8,0 14.9,-6.8 15.3,-13.5 C15.6,-18.6 13.4,-22 10,-22.1 C8.8,-22.1 7.2,-21 5.2,-18.3"/><circle cx="106.2" cy="1011.3" r="2.5" fill="#1e1e1e" stroke="none"/><path transform="translate(113.5,1012.4)" d="M5.2,-23.6 C3.9,-20.5 0.9,-14.5 0.2,-10 C-0.6,-4.5 1.3,0 5,0 C9.8,0 14.9,-6.8 15.3,-13.5 C15.6,-18.6 13.4,-22 10,-22.1 C8.8,-22.1 7.2,-21 5.2,-18.3"/>
</g>
</svg></body></html>
